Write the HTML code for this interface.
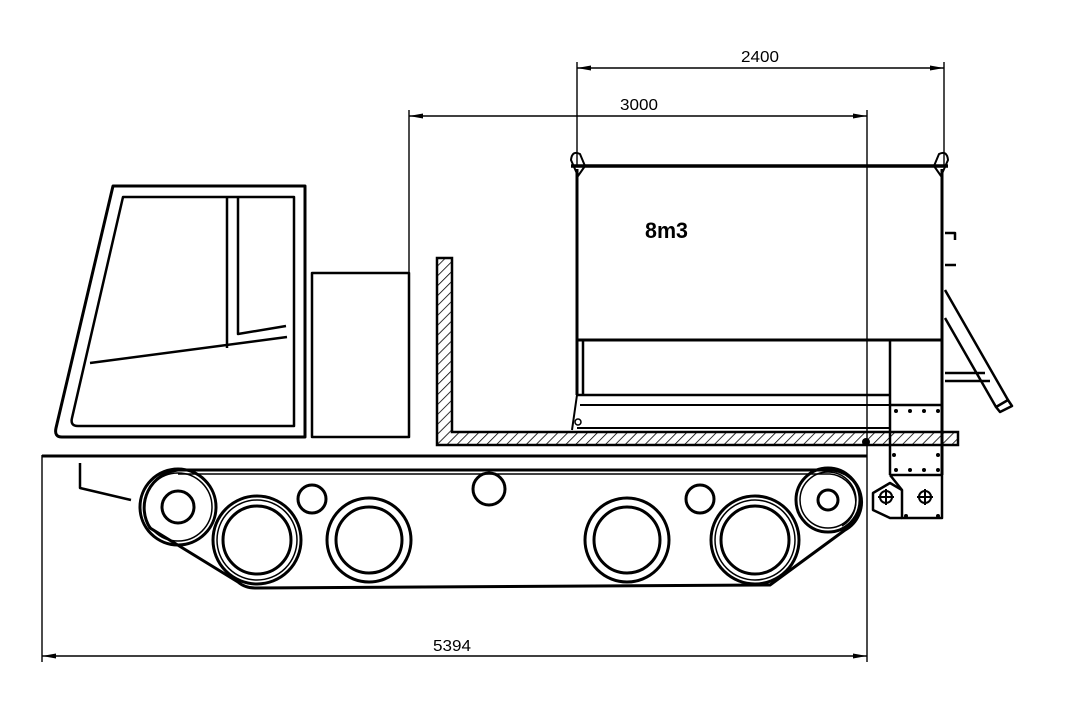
<!DOCTYPE html>
<html><head><meta charset="utf-8"><style>
html,body{margin:0;padding:0;background:#fff;}
svg{display:block}
text{font-family:"Liberation Sans",sans-serif;}
</style></head><body>
<svg width="1070" height="722" viewBox="0 0 1070 722" xmlns="http://www.w3.org/2000/svg">
<defs>
<pattern id="h" width="7" height="7" patternUnits="userSpaceOnUse" patternTransform="rotate(45)">
<line x1="0" y1="0" x2="0" y2="7" stroke="#000" stroke-width="1.6"/>
</pattern>
</defs>
<g fill="none" stroke="#000" stroke-width="1.4">
<line x1="577" y1="62" x2="577" y2="165"/>
<line x1="944" y1="62" x2="944" y2="165"/>
<line x1="577" y1="68" x2="944" y2="68"/>
<line x1="409" y1="110" x2="409" y2="272"/>
<line x1="867" y1="110" x2="867" y2="662"/>
<line x1="409" y1="116" x2="867" y2="116"/>
<line x1="42" y1="455" x2="42" y2="662"/>
<line x1="42" y1="656" x2="867" y2="656"/>
</g>
<g fill="#000">
<polygon points="577,68 591,65.5 591,70.5"/><polygon points="944,68 930,65.5 930,70.5"/>
<polygon points="409,116 423,113.5 423,118.5"/><polygon points="867,116 853,113.5 853,118.5"/>
<polygon points="42,656 56,653.5 56,658.5"/><polygon points="867,656 853,653.5 853,658.5"/>
</g>
<text x="741" y="62" font-size="16" textLength="38" lengthAdjust="spacingAndGlyphs">2400</text>
<text x="620" y="110" font-size="16" textLength="38" lengthAdjust="spacingAndGlyphs">3000</text>
<text x="433" y="651" font-size="16" textLength="38" lengthAdjust="spacingAndGlyphs">5394</text>
<text x="645" y="238" font-size="22" font-weight="bold" textLength="43" lengthAdjust="spacingAndGlyphs">8m3</text>

<g fill="none" stroke="#000" stroke-width="3" stroke-linejoin="round">
<path d="M113,186 L305,186 L305,437 L62,437 Q54,437 56,428 Z"/>
<path d="M123,197 L294,197 L294,426 L78,426 Q70,426 72,418 Z" stroke-width="2.5"/>
<path d="M227,197 L227,348 M238,197 L238,334 L286,326 M90,363 L287,337" stroke-width="2.5"/>
<rect x="312" y="273" width="97" height="164" stroke-width="2.5"/>
<line x1="42" y1="456" x2="867" y2="456"/>
<path d="M80,463 L80,488 L131,500" stroke-width="2.5"/>
<line x1="571" y1="166" x2="948" y2="166" stroke-width="3.5"/>
<path d="M577,169 L577,395 M942,169 L942,475" />
<line x1="577" y1="340" x2="942" y2="340"/>
<path d="M583,340 L583,395 M890,340 L890,475 M577,395 L890,395" stroke-width="2.5"/>
<path d="M577,395 L572,430 M580,405 L890,405" stroke-width="2"/>
<line x1="577" y1="428" x2="890" y2="428" stroke-width="2"/>
<circle cx="578" cy="422" r="3" stroke-width="1.5"/>
<path d="M571,160 Q572,150 580,154 L585,166 L578,176 Z M948,160 Q947,150 939,154 L934,166 L941,176 Z" stroke-width="2"/>
<path d="M890,405 L942,405 M890,475 L942,475 M890,475 L902,490 L902,518 L942,518 L942,475" stroke-width="2.5"/>
<path d="M902,490 L890,483 L873,493 L873,510 L890,518 L902,518" stroke-width="2.5"/>
<circle cx="886" cy="497" r="6" stroke-width="2"/><path d="M878,497 L894,497 M886,489 L886,505" stroke-width="2"/>
<circle cx="925" cy="497" r="6" stroke-width="2"/><path d="M917,497 L933,497 M925,489 L925,505" stroke-width="2"/>
<path d="M945,290 L1008,400 M945,318 L996,407 M945,373 L985,373 M945,381 L990,381 M945,265 L956,265 M945,233 L955,233 L955,240" stroke-width="2.5"/>
<path d="M996,407 L1008,400 L1012,406 L1000,412 Z" stroke-width="2.5"/>
<path d="M178,470 L830,470 A32,32 0 0 1 845,530 L770,585 L255,588 Q245,588 238,582 L150,528 A38,38 0 0 1 178,470 Z" stroke-width="3"/>
<path d="M178,474 L830,474 A28,28 0 0 1 842,526" stroke-width="1.5"/>
<circle cx="178" cy="507" r="38"/><circle cx="178" cy="507" r="34" stroke-width="1.5"/><circle cx="178" cy="507" r="16"/>
<circle cx="257" cy="540" r="44"/><circle cx="257" cy="540" r="40" stroke-width="1.5"/><circle cx="257" cy="540" r="34"/>
<circle cx="369" cy="540" r="42"/><circle cx="369" cy="540" r="33"/>
<circle cx="627" cy="540" r="42"/><circle cx="627" cy="540" r="33"/>
<circle cx="755" cy="540" r="44"/><circle cx="755" cy="540" r="40" stroke-width="1.5"/><circle cx="755" cy="540" r="34"/>
<circle cx="312" cy="499" r="14"/><circle cx="489" cy="489" r="16"/><circle cx="700" cy="499" r="14"/>
<circle cx="828" cy="500" r="32"/><circle cx="828" cy="500" r="28" stroke-width="1.5"/><circle cx="828" cy="500" r="10"/>
</g>
<path d="M437,258 L452,258 L452,432 L958,432 L958,445 L437,445 Z" fill="url(#h)" stroke="#000" stroke-width="2.5"/>
<g fill="#000">
<circle cx="866" cy="442" r="4"/>
<circle cx="896" cy="411" r="2"/><circle cx="910" cy="411" r="2"/><circle cx="924" cy="411" r="2"/><circle cx="938" cy="411" r="2"/>
<circle cx="896" cy="470" r="2"/><circle cx="910" cy="470" r="2"/><circle cx="924" cy="470" r="2"/><circle cx="938" cy="470" r="2"/>
<circle cx="906" cy="516" r="2"/><circle cx="938" cy="516" r="2"/><circle cx="894" cy="455" r="2"/><circle cx="938" cy="455" r="2"/>
</g>
</svg>
</body></html>
